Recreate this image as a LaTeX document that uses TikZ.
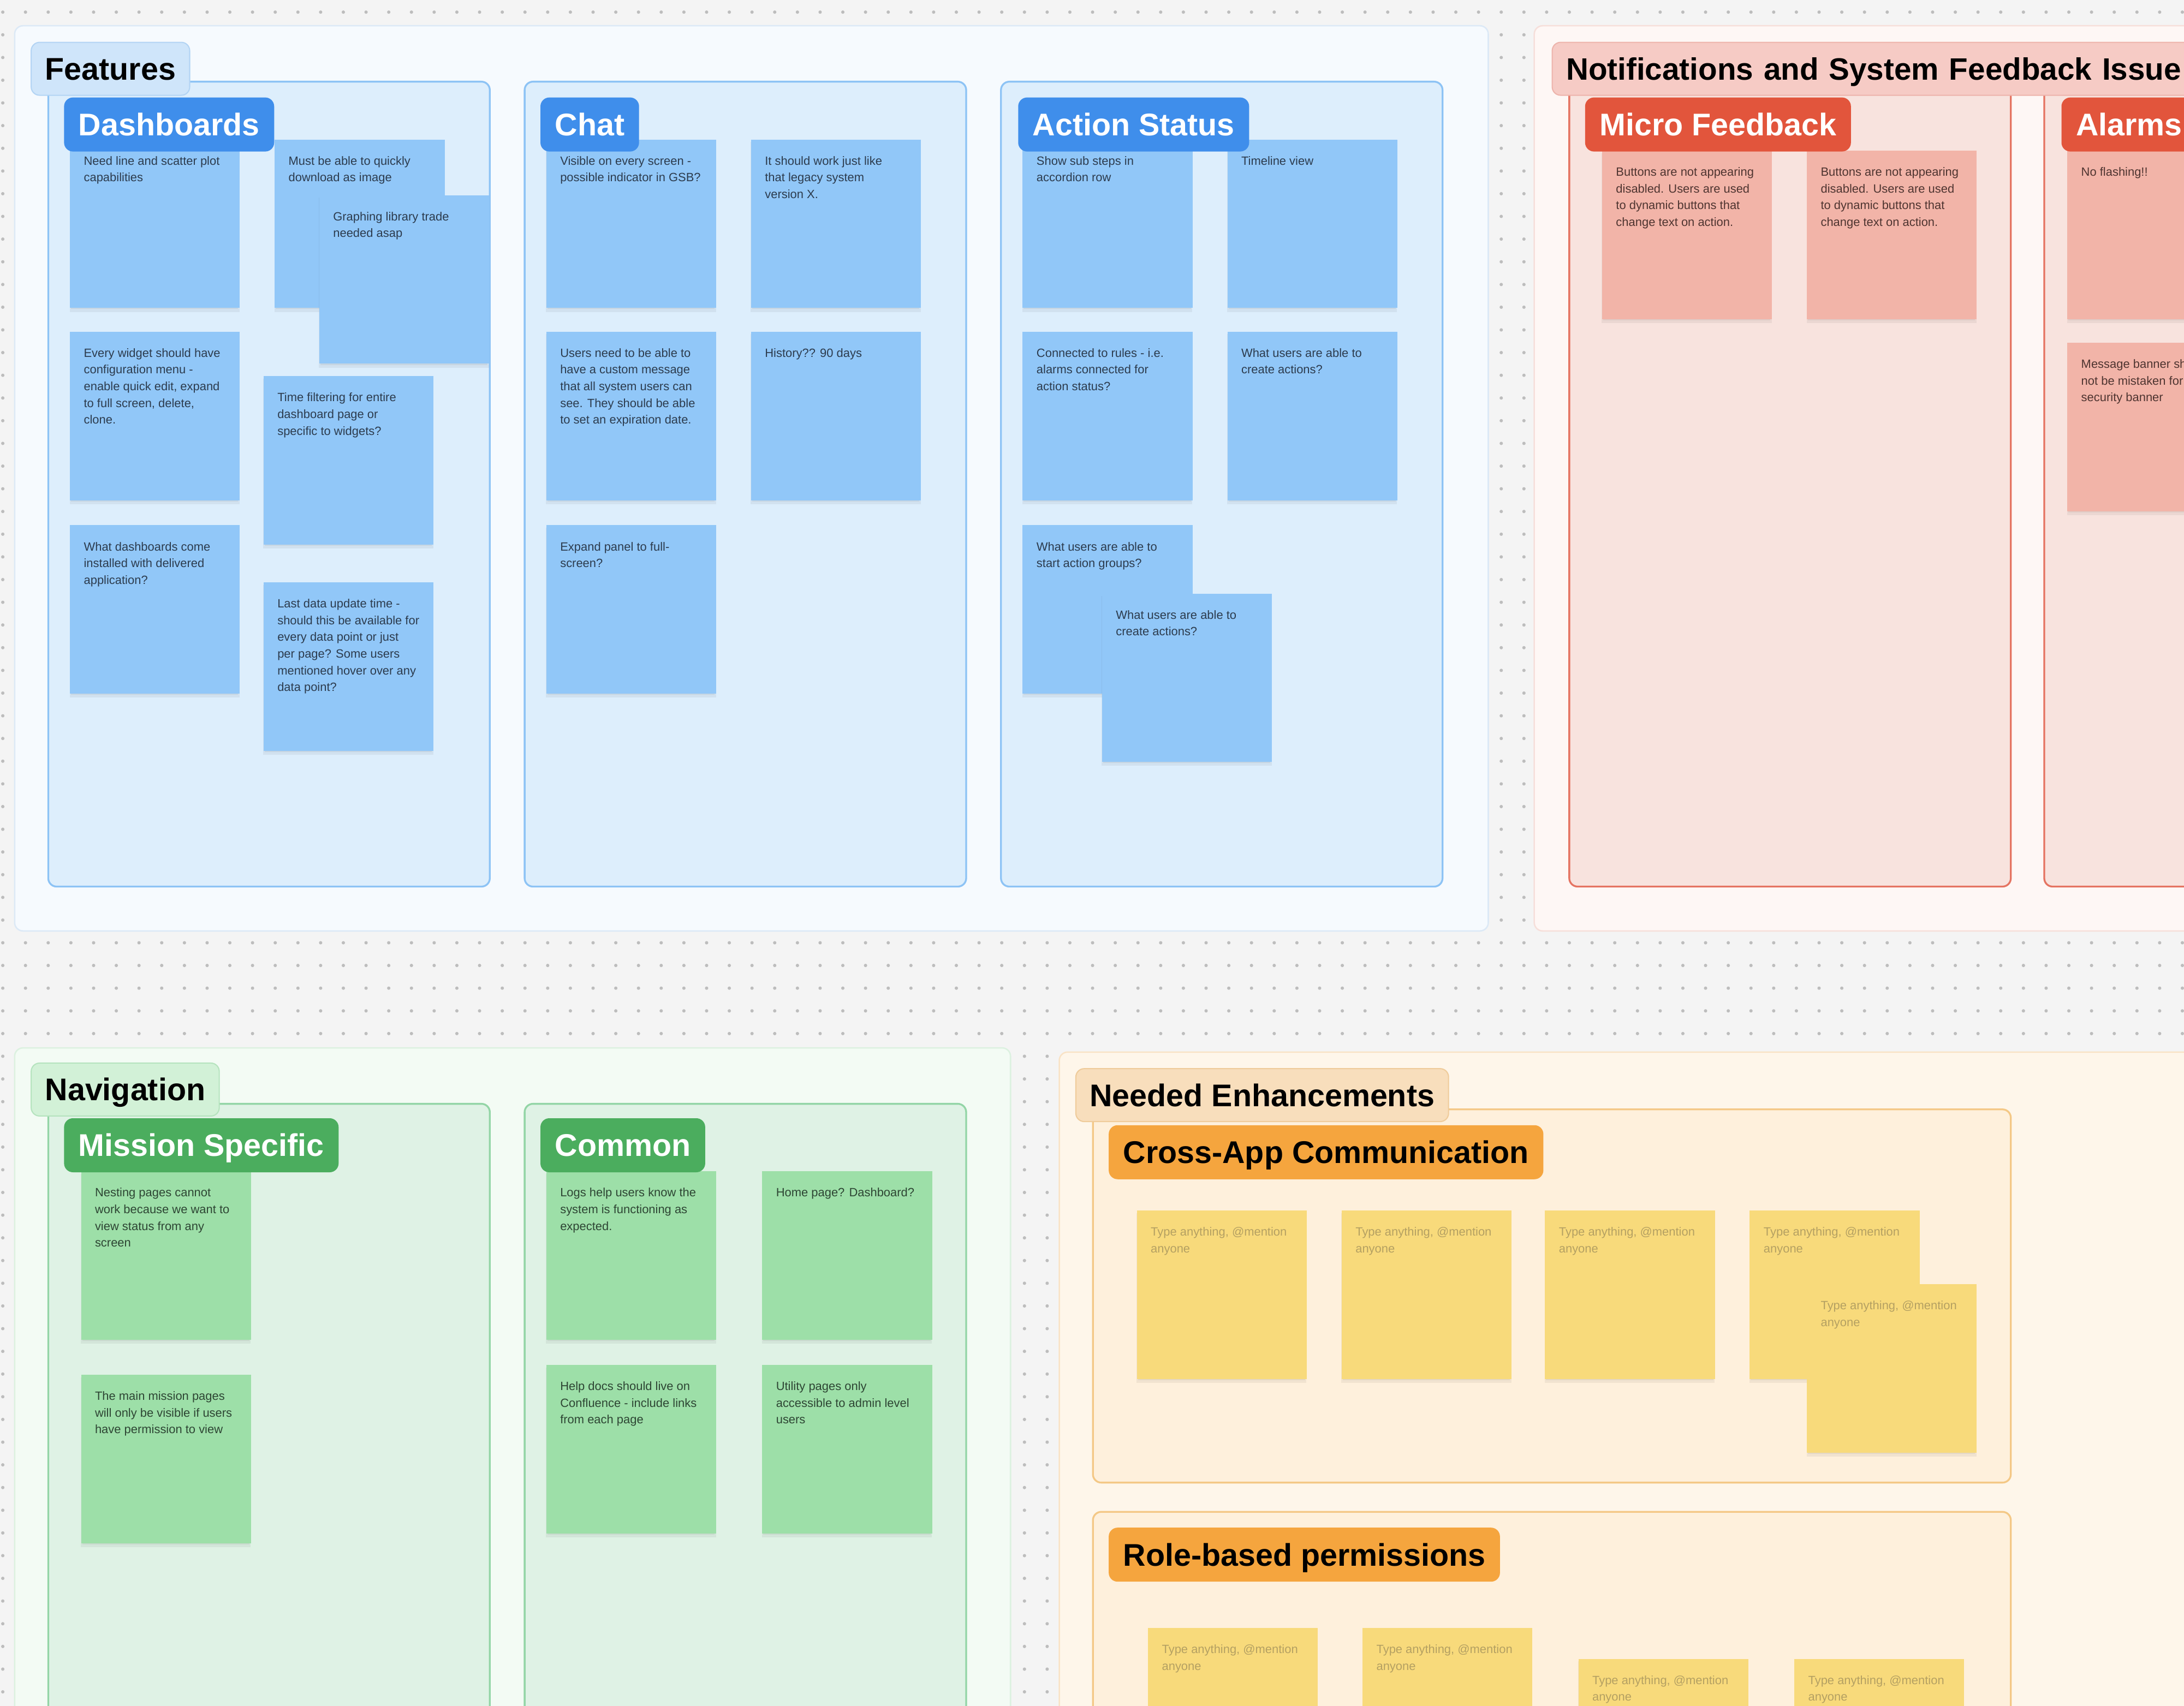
\documentclass[tikz,border=0pt]{standalone}
\usepackage{fontspec}
\setmainfont{Liberation Sans}
\usetikzlibrary{calc}
% section colours
\definecolor{canvas}{HTML}{F4F4F4}\definecolor{dotc}{HTML}{BDBDBD}
\definecolor{featBg}{HTML}{F6FAFE}\definecolor{featBd}{HTML}{DCE9F6}
\definecolor{featTag}{HTML}{CFE5FA}\definecolor{featTagBd}{HTML}{B3D4F4}
\definecolor{bFrame}{HTML}{DDEEFC}\definecolor{bFrameBd}{HTML}{8DC3F5}
\definecolor{bTag}{HTML}{3F8EEB}\definecolor{bSticky}{HTML}{91C7F8}\definecolor{bText}{HTML}{2C3B4D}
\definecolor{notBg}{HTML}{FEF7F5}\definecolor{notBd}{HTML}{F6DFDA}
\definecolor{notTag}{HTML}{F6CBC5}\definecolor{notTagBd}{HTML}{EDB3AB}
\definecolor{rFrame}{HTML}{F8E3DE}\definecolor{rFrameBd}{HTML}{E57462}
\definecolor{rTag}{HTML}{E2553C}\definecolor{rSticky}{HTML}{F2B4A8}\definecolor{rText}{HTML}{4E3430}
\definecolor{navBg}{HTML}{F3FBF4}\definecolor{navBd}{HTML}{DCF1E0}
\definecolor{navTag}{HTML}{D2F1D7}\definecolor{navTagBd}{HTML}{B5E3BE}
\definecolor{gFrame}{HTML}{DFF2E5}\definecolor{gFrameBd}{HTML}{93D5A6}
\definecolor{gTag}{HTML}{4BAD5E}\definecolor{gSticky}{HTML}{9DDFA8}\definecolor{gText}{HTML}{2D4533}
\definecolor{needBg}{HTML}{FEF6EA}\definecolor{needBd}{HTML}{F9E3C6}
\definecolor{needTag}{HTML}{F8DEBC}\definecolor{needTagBd}{HTML}{EFCB9A}
\definecolor{oFrame}{HTML}{FEF0DC}\definecolor{oFrameBd}{HTML}{F4C886}
\definecolor{oTag}{HTML}{F5A53E}\definecolor{ySticky}{HTML}{F8DA7B}\definecolor{yText}{HTML}{B4A062}

\newcommand\stickynote[6]{%
  \fill[black,opacity=0.05] (#2,#3+2) rectangle ++(122,122);
  \fill[black,opacity=0.05] (#2+1,#3+1) rectangle ++(120,121);
  \node[stickybox, fill=#4] (#1) at (#2,#3) {};
  \node[notetext, text=#5] (#1-txt) at (#2+10,#3+12) {#6};
}

\begin{document}
\begin{tikzpicture}[x=1pt,y=-1pt,
  section/.style={anchor=north west, inner sep=0pt, rounded corners=6pt, line width=1pt},
  frame/.style={anchor=north west, inner sep=0pt, rounded corners=6pt, line width=1.3pt},
  tagbox/.style={anchor=north west, rounded corners=6pt, inner xsep=10pt, inner ysep=0pt,
     minimum height=38pt, text height=18pt, text depth=2pt, line width=0.8pt,
     font=\fontsize{22.5}{27}\selectfont\bfseries},
  stickybox/.style={anchor=north west, inner sep=0pt, minimum width=122pt, minimum height=121pt},
  notetext/.style={anchor=north west, inner sep=0pt, align=left, font=\fontsize{8.6}{12}\selectfont},
  dotrow/.style={dotc, line width=2.4pt, line cap=round, dash pattern=on 0pt off 16.3pt}
]
\useasboundingbox (0,0) rectangle (1568,1225);
\clip (0,0) rectangle (1568,1225);
\fill[canvas] (0,0) rectangle (1568,1225);
% dotted canvas
\foreach \j in {0,...,75}{\draw[dotrow] (2,8.7+\j*16.3) -- (1575,8.7+\j*16.3);}

% ================= FEATURES =================
\node[section, fill=featBg, draw=featBd, minimum width=1058pt, minimum height=650pt] (features) at (10,18) {};
\node[frame, fill=bFrame, draw=bFrameBd, minimum width=317pt, minimum height=578pt] (dashF) at (34,58) {};
\node[frame, fill=bFrame, draw=bFrameBd, minimum width=317pt, minimum height=578pt] (chatF) at (376,58) {};
\node[frame, fill=bFrame, draw=bFrameBd, minimum width=317pt, minimum height=578pt] (actF) at (718,58) {};

\stickynote{s1}{50}{100}{bSticky}{bText}{Need line and scatter plot\\capabilities}
\stickynote{s2}{197}{100}{bSticky}{bText}{Must be able to quickly\\download as image}
\stickynote{s3}{229}{140}{bSticky}{bText}{Graphing library trade\\needed asap}
\stickynote{s4}{50}{238}{bSticky}{bText}{Every widget should have\\configuration menu -\\enable quick edit, expand\\to full screen, delete,\\clone.}
\stickynote{s5}{189}{270}{bSticky}{bText}{Time filtering for entire\\dashboard page or\\specific to widgets?}
\stickynote{s6}{50}{377}{bSticky}{bText}{What dashboards come\\installed with delivered\\application?}
\stickynote{s7}{189}{418}{bSticky}{bText}{Last data update time -\\should this be available for\\every data point or just\\per page? Some users\\mentioned hover over any\\data point?}

\stickynote{c1}{392}{100}{bSticky}{bText}{Visible on every screen -\\possible indicator in GSB?}
\stickynote{c2}{539}{100}{bSticky}{bText}{It should work just like\\that legacy system\\version X.}
\stickynote{c3}{392}{238}{bSticky}{bText}{Users need to be able to\\have a custom message\\that all system users can\\see. They should be able\\to set an expiration date.}
\stickynote{c4}{539}{238}{bSticky}{bText}{History?? 90 days}
\stickynote{c5}{392}{377}{bSticky}{bText}{Expand panel to full-\\screen?}

\stickynote{a1}{734}{100}{bSticky}{bText}{Show sub steps in\\accordion row}
\stickynote{a2}{881}{100}{bSticky}{bText}{Timeline view}
\stickynote{a3}{734}{238}{bSticky}{bText}{Connected to rules - i.e.\\alarms connected for\\action status?}
\stickynote{a4}{881}{238}{bSticky}{bText}{What users are able to\\create actions?}
\stickynote{a5}{734}{377}{bSticky}{bText}{What users are able to\\start action groups?}
\stickynote{a6}{791}{426}{bSticky}{bText}{What users are able to\\create actions?}

\node[tagbox, fill=featTag, draw=featTagBd, text=black] (featT) at (22,30) {Features};
\node[tagbox, fill=bTag, draw=bTag, text=white] (dashT) at (46,70) {Dashboards};
\node[tagbox, fill=bTag, draw=bTag, text=white] (chatT) at (388,70) {Chat};
\node[tagbox, fill=bTag, draw=bTag, text=white] (actT) at (731,70) {Action Status};

% ================= NOTIFICATIONS =================
\node[section, fill=notBg, draw=notBd, minimum width=700pt, minimum height=650pt] (notif) at (1101,18) {};
\node[frame, fill=rFrame, draw=rFrameBd, minimum width=317pt, minimum height=578pt] (microF) at (1126,58) {};
\node[frame, fill=rFrame, draw=rFrameBd, minimum width=317pt, minimum height=578pt] (alarmF) at (1467,58) {};

\stickynote{m1}{1150}{108}{rSticky}{rText}{Buttons are not appearing\\disabled. Users are used\\to dynamic buttons that\\change text on action.}
\stickynote{m2}{1297}{108}{rSticky}{rText}{Buttons are not appearing\\disabled. Users are used\\to dynamic buttons that\\change text on action.}
\stickynote{al1}{1484}{108}{rSticky}{rText}{No flashing!!}
\stickynote{al2}{1484}{246}{rSticky}{rText}{Message banner should\\not be mistaken for\\security banner}

\node[tagbox, fill=notTag, draw=notTagBd, text=black, minimum width=520pt, align=left, text width=500pt,
      font=\fontsize{22.2}{27}\selectfont\bfseries] (notifT) at (1114,30) {Notifications and System Feedback Issue};
\node[tagbox, fill=rTag, draw=rTag, text=white] (microT) at (1138,70) {Micro Feedback};
\node[tagbox, fill=rTag, draw=rTag, text=white] (alarmT) at (1480,70) {Alarms};

% ================= NAVIGATION =================
\node[section, fill=navBg, draw=navBd, minimum width=715pt, minimum height=600pt] (nav) at (10,752) {};
\node[frame, fill=gFrame, draw=gFrameBd, minimum width=317pt, minimum height=600pt] (missF) at (34,792) {};
\node[frame, fill=gFrame, draw=gFrameBd, minimum width=317pt, minimum height=600pt] (commF) at (376,792) {};

\stickynote{n1}{58}{841}{gSticky}{gText}{Nesting pages cannot\\work because we want to\\view status from any\\screen}
\stickynote{n2}{58}{987}{gSticky}{gText}{The main mission pages\\will only be visible if users\\have permission to view}
\stickynote{cm1}{392}{841}{gSticky}{gText}{Logs help users know the\\system is functioning as\\expected.}
\stickynote{cm2}{547}{841}{gSticky}{gText}{Home page? Dashboard?}
\stickynote{cm3}{392}{980}{gSticky}{gText}{Help docs should live on\\Confluence - include links\\from each page}
\stickynote{cm4}{547}{980}{gSticky}{gText}{Utility pages only\\accessible to admin level\\users}

\node[tagbox, fill=navTag, draw=navTagBd, text=black] (navT) at (22,763) {Navigation};
\node[tagbox, fill=gTag, draw=gTag, text=white] (missT) at (46,803) {Mission Specific};
\node[tagbox, fill=gTag, draw=gTag, text=white] (commT) at (388,803) {Common};

% ================= NEEDED ENHANCEMENTS =================
\node[section, fill=needBg, draw=needBd, minimum width=900pt, minimum height=600pt] (need) at (760,755) {};
\node[frame, fill=oFrame, draw=oFrameBd, minimum width=659pt, minimum height=268pt] (crossF) at (784,796) {};
\node[frame, fill=oFrame, draw=oFrameBd, minimum width=659pt, minimum height=300pt] (roleF) at (784,1085) {};

\stickynote{y1}{816}{869}{ySticky}{yText}{Type anything, @mention\\anyone}
\stickynote{y2}{963}{869}{ySticky}{yText}{Type anything, @mention\\anyone}
\stickynote{y3}{1109}{869}{ySticky}{yText}{Type anything, @mention\\anyone}
\stickynote{y4}{1256}{869}{ySticky}{yText}{Type anything, @mention\\anyone}
\stickynote{y5}{1297}{922}{ySticky}{yText}{Type anything, @mention\\anyone}
\stickynote{r1}{824}{1169}{ySticky}{yText}{Type anything, @mention\\anyone}
\stickynote{r2}{978}{1169}{ySticky}{yText}{Type anything, @mention\\anyone}
\stickynote{r3}{1133}{1191}{ySticky}{yText}{Type anything, @mention\\anyone}
\stickynote{r4}{1288}{1191}{ySticky}{yText}{Type anything, @mention\\anyone}

\node[tagbox, fill=needTag, draw=needTagBd, text=black] (needT) at (772,767) {Needed Enhancements};
\node[tagbox, fill=oTag, draw=oTag, text=black] (crossT) at (796,808) {Cross-App Communication};
\node[tagbox, fill=oTag, draw=oTag, text=black] (roleT) at (796,1097) {Role-based permissions};
\end{tikzpicture}
\end{document}
